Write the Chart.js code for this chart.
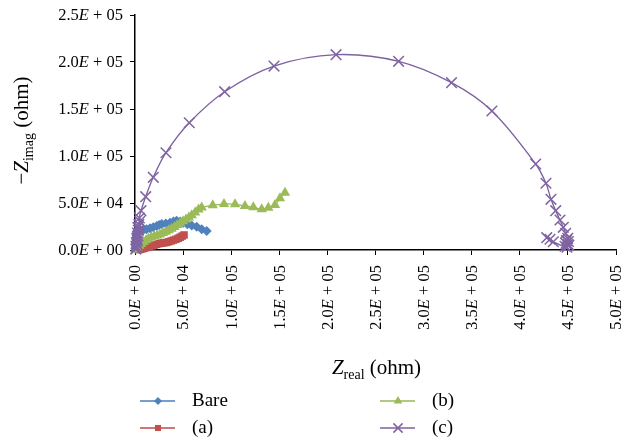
<!DOCTYPE html>
<html>
<head>
<meta charset="utf-8">
<script src="https://cdn.jsdelivr.net/npm/chart.js@4.4.0/dist/chart.umd.min.js"></script>
<style>
  html, body { margin: 0; padding: 0; background: #fff; }
  #wrap { width: 629px; height: 440px; }
</style>
</head>
<body>
<div id="wrap"><canvas id="nyquist"></canvas></div>
<script>
// tick values / labels (mantissa, exponent)
const xTickValues = [0, 5e4, 1e5, 1.5e5, 2e5, 2.5e5, 3e5, 3.5e5, 4e5, 4.5e5, 5e5];
const xTickLabels = [['0.0', '00'], ['5.0', '04'], ['1.0', '05'], ['1.5', '05'], ['2.0', '05'], ['2.5', '05'],
                     ['3.0', '05'], ['3.5', '05'], ['4.0', '05'], ['4.5', '05'], ['5.0', '05']];
const yTickValues = [0, 5e4, 1e5, 1.5e5, 2e5, 2.5e5];
const yTickLabels = [['0.0', '00'], ['5.0', '04'], ['1.0', '05'], ['1.5', '05'], ['2.0', '05'], ['2.5', '05']];

// series (Zreal, -Zimag)
const bareX = [300, 600, 900, 1200, 1500, 1800, 5000, 8600, 12000, 15600, 19000, 22600, 25000, 27800,
               32000, 36400, 40000, 43300, 47000, 50200, 54400, 59000, 64100, 69300, 74500];
const bareY = [1500, 5000, 9000, 13000, 16500, 19500, 20500, 21300, 22200, 23100, 24300, 25500, 26600, 27700,
               28300, 29000, 30200, 31200, 30200, 29000, 27300, 26000, 24800, 22000, 20200];

const aX = [4000, 6000, 8000, 10000, 12500, 15000, 17500, 20000, 22500, 25000, 27500, 30000,
            32500, 35000, 37500, 40000, 42500, 45000, 47000, 49000, 51000];
const aY = [300, 800, 1400, 2000, 2700, 3500, 4300, 5200, 6000, 6800, 7300, 7600,
            8000, 8700, 9600, 10500, 11400, 12500, 13600, 14800, 16000];

const bX = [1000, 2500, 4500, 6500, 9000, 11500, 14000, 17000, 20000, 23000, 26000, 29000, 32000, 35000,
            38000, 41000, 44000, 47000, 50000, 53000, 56000, 59000, 62500, 66000, 69300, 80800, 92500,
            104000, 114300, 123000, 131700, 138600, 145500, 150700, 155900];
const bY = [500, 2500, 4500, 6500, 8500, 10500, 12000, 13500, 14500, 15500, 16500, 18000, 19500, 21000,
            22500, 24500, 26500, 28500, 30500, 32500, 34500, 37000, 40000, 43000, 45200, 47700, 48900,
            48600, 46800, 45400, 43300, 45000, 47900, 55000, 61000];

const cX = [800, 1500, 1000, 2000, 1500, 2500, 2000, 3000, 2500, 3500, 3000, 4000, 5000, 4500, 6200,
            11100, 19000, 32200, 56400, 93200, 144500, 209000, 274000, 329000, 371000, 416500, 427200,
            432400, 437300, 441800, 445200, 447700, 449800, 450500, 448000, 451000, 449000, 450000,
            448500, 447000, 434800, 431400, 428000];
const cY = [1000, 2500, 4000, 6000, 8000, 10000, 12500, 15000, 18000, 21000, 24000, 27000, 30500, 34000,
            41800, 56700, 77300, 103500, 135400, 168400, 195700, 207800, 200700, 178000, 147900, 91500,
            71000, 53900, 41800, 31900, 24100, 17800, 12400, 9000, 7000, 5000, 3000, 6000, 10000, 4000,
            8800, 11400, 13100];

const seriesNames = ['Bare', '(a)', '(b)', '(c)'];

function pts(xs, ys) { return xs.map((x, i) => ({ x: x, y: ys[i] })); }

const serif = "'Liberation Serif', 'DejaVu Serif', serif";

function partsWidth(ctx, parts) {
    let w = 0;
    parts.forEach(p => { ctx.font = p[0]; w += ctx.measureText(p[1]).width; });
    return w;
}

function drawParts(ctx, parts, x0, baseY) {
    let x = x0;
    ctx.textAlign = 'left';
    parts.forEach(p => {
        ctx.font = p[0];
        ctx.fillText(p[1], x, baseY + p[2]);
        x += ctx.measureText(p[1]).width;
    });
}

function tickParts(lbl) {
    const f = '16.5px ' + serif;
    return [[f, lbl[0], 0], ['italic ' + f, 'E', 0], [f, ' + ' + lbl[1], 0]];
}

// tick labels with italic E, axis titles with subscripts, two-column legend
const extras = {
    id: 'extras',
    afterDraw(chart) {
        const ctx = chart.ctx;
        const area = chart.chartArea;
        const xs = chart.scales.x, ys = chart.scales.y;
        ctx.save();
        ctx.fillStyle = '#000';
        ctx.textBaseline = 'middle';

        yTickValues.forEach((v, i) => {
            const parts = tickParts(yTickLabels[i]);
            const w = partsWidth(ctx, parts);
            drawParts(ctx, parts, 123 - w, ys.getPixelForValue(v) + 1);
        });
        xTickValues.forEach((v, i) => {
            const parts = tickParts(xTickLabels[i]);
            const w = partsWidth(ctx, parts);
            ctx.save();
            ctx.translate(xs.getPixelForValue(v) + 1, area.bottom + 15);
            ctx.rotate(-Math.PI / 2);
            drawParts(ctx, parts, -w, 0);
            ctx.restore();
        });

        ctx.textBaseline = 'alphabetic';
        // x title
        let parts = [['italic 21px ' + serif, 'Z', 0], ['14px ' + serif, 'real', 5], ['21px ' + serif, ' (ohm)', 0]];
        drawParts(ctx, parts, (area.left + area.right) / 2 - partsWidth(ctx, parts) / 2 + 1, 374);

        // y title
        ctx.save();
        ctx.translate(28, (area.top + area.bottom) / 2 - 2);
        ctx.rotate(-Math.PI / 2);
        parts = [['21px ' + serif, '\u2212', 0], ['italic 21px ' + serif, 'Z', 0], ['14px ' + serif, 'imag', 5], ['21px ' + serif, ' (ohm)', 0]];
        drawParts(ctx, parts, -partsWidth(ctx, parts) / 2, 0);
        ctx.restore();

        // legend
        const slots = [[140, 401], [140, 428], [380, 401], [380, 428]];
        chart.data.datasets.forEach((ds, i) => {
            const sx = slots[i][0], sy = slots[i][1];
            ctx.strokeStyle = ds.borderColor;
            ctx.lineWidth = 1.5;
            ctx.beginPath();
            ctx.moveTo(sx, sy);
            ctx.lineTo(sx + 35, sy);
            ctx.stroke();
            ctx.fillStyle = ds.pointBackgroundColor;
            ctx.strokeStyle = ds.pointBorderColor;
            Chart.helpers.drawPoint(ctx, {
                pointStyle: ds.pointStyle, radius: ds.pointRadius - 1, rotation: 0, borderWidth: ds.pointBorderWidth
            }, sx + 18, sy);
            ctx.fillStyle = '#000';
            ctx.font = '19px ' + serif;
            ctx.textAlign = 'left';
            ctx.textBaseline = 'middle';
            ctx.fillText(ds.label, sx + 52, sy);
        });
        ctx.restore();
    }
};

function series(label, data, line, fill, style, radius, order) {
    return {
        label: label,
        data: data,
        showLine: true,
        tension: 0.35,
        clip: false,
        borderColor: line,
        borderWidth: 1.3,
        pointStyle: style,
        pointRadius: radius,
        pointHoverRadius: radius,
        pointBackgroundColor: fill,
        pointBorderColor: fill,
        pointBorderWidth: style === 'crossRot' ? 1.5 : 0,
        order: order
    };
}

new Chart(document.getElementById('nyquist'), {
    type: 'scatter',
    data: {
        datasets: [
            series(seriesNames[0], pts(bareX, bareY), '#4A7EBB', '#4F81BD', 'rectRot', 5, 3),
            series(seriesNames[1], pts(aX, aY), '#BE4B48', '#C0504D', 'rect', 5.3, 2),
            series(seriesNames[2], pts(bX, bY), '#98B954', '#9BBB59', 'triangle', 6, 1),
            series(seriesNames[3], pts(cX, cY), '#7D60A0', '#8064A2', 'crossRot', 7.5, 0)
        ]
    },
    options: {
        responsive: true,
        maintainAspectRatio: false,
        animation: false,
        layout: { padding: { top: 15, right: 13, bottom: 90, left: 0 } },
        plugins: { legend: { display: false }, tooltip: { enabled: false } },
        scales: {
            x: {
                type: 'linear',
                min: 0,
                max: 5e5,
                afterBuildTicks: s => { s.ticks = xTickValues.map(v => ({ value: v })); },
                afterFit: s => { s.height = 100; s.paddingLeft = 0; s.paddingRight = 0; },
                ticks: { display: false },
                grid: { drawOnChartArea: false, tickLength: 5, color: '#000' },
                border: { color: '#000', width: 1.5 }
            },
            y: {
                min: 0,
                max: 2.5e5,
                afterBuildTicks: s => { s.ticks = yTickValues.map(v => ({ value: v })); },
                afterFit: s => { s.width = 135; s.paddingTop = 0; s.paddingBottom = 0; },
                ticks: { display: false },
                grid: { drawOnChartArea: false, tickLength: 5, color: '#000' },
                border: { color: '#000', width: 1.5 }
            }
        }
    },
    plugins: [extras]
});
</script>
</body>
</html>
